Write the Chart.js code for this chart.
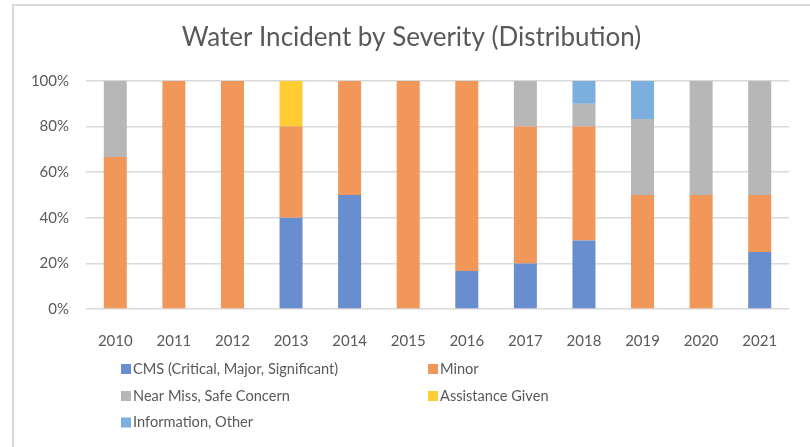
<!DOCTYPE html>
<html><head><meta charset="utf-8">
<script src="https://cdn.jsdelivr.net/npm/chart.js@4"></script>
<style>html,body{margin:0;padding:0;background:#fff}#wrap{width:810px;height:447px;position:relative}</style>
</head><body><div id="wrap"><canvas id="c" width="810" height="447"></canvas></div>
<script>
const years = ['2010','2011','2012','2013','2014','2015','2016','2017','2018','2019','2020','2021'];
const cms        = [0, 0, 0, 40, 50, 0, 16.7, 20, 30, 0, 0, 25];
const minor      = [66.7, 100, 100, 40, 50, 100, 83.3, 60, 50, 50, 50, 25];
const nearMiss   = [33.3, 0, 0, 0, 0, 0, 0, 20, 10, 33.3, 50, 50];
const assistance = [0, 0, 0, 20, 0, 0, 0, 0, 0, 0, 0, 0];
const infoOther  = [0, 0, 0, 0, 0, 0, 0, 0, 10, 16.7, 0, 0];
const seriesNames = ['CMS (Critical, Major, Significant)', 'Minor', 'Near Miss, Safe Concern', 'Assistance Given', 'Information, Other'];
const seriesColors = ['#698ED0', '#F1975A', '#B7B7B7', '#FFCD33', '#7CAFDD'];
const yTickValues = [0, 20, 40, 60, 80, 100];
const titleText = 'Water Incident by Severity (Distribution)';

const FONT = 'Lato';
const TXT = '#595959';

const seriesData = [cms, minor, nearMiss, assistance, infoOther];

const frame = {
  id: 'frame',
  afterLayout(chart) {
    if (chart.titleBlock) { chart.titleBlock.left = 13; chart.titleBlock.right = 810; }
  },
  beforeDraw(chart) {
    const ctx = chart.ctx;
    ctx.save();
    ctx.fillStyle = '#D9D9D9';
    ctx.fillRect(12, 4, 810 - 12, 2);
    ctx.fillRect(12, 4, 2, 447 - 4);
    ctx.restore();
  }
};

const gridLegend = {
  id: 'gridLegend',
  afterDraw(chart) {
    const ctx = chart.ctx;
    const cols = [121, 428];
    const rows = [369, 396, 422.5];
    ctx.save();
    ctx.font = '14.6px ' + FONT;
    ctx.textBaseline = 'middle';
    ctx.textAlign = 'left';
    chart.data.datasets.forEach((ds, i) => {
      const x = cols[i % 2];
      const y = rows[Math.floor(i / 2)];
      ctx.fillStyle = ds.backgroundColor;
      ctx.fillRect(x, y - 5, 10, 10);
      ctx.fillStyle = TXT;
      ctx.fillText(ds.label, x + 12, y);
    });
    ctx.restore();
  }
};

new Chart(document.getElementById('c'), {
  type: 'bar',
  data: {
    labels: years,
    datasets: seriesNames.map((n, i) => ({
      label: n,
      data: seriesData[i],
      backgroundColor: seriesColors[i],
      borderWidth: 0,
      categoryPercentage: 1,
      barPercentage: 0.393
    }))
  },
  options: {
    responsive: false,
    animation: false,
    devicePixelRatio: 1,
    layout: { padding: { left: 0, right: 21, top: 0, bottom: 0 } },
    plugins: {
      legend: { display: false },
      tooltip: { enabled: false },
      title: {
        display: true,
        text: titleText,
        color: TXT,
        font: { family: FONT, size: 26, weight: 'normal' },
        padding: { top: 22, bottom: 27.8 }
      }
    },
    scales: {
      x: {
        stacked: true,
        grid: { display: false },
        border: { display: false },
        ticks: { color: TXT, font: { family: FONT, size: 15 }, padding: 15, maxRotation: 0 },
        afterFit(s) { s.height = 138; }
      },
      y: {
        stacked: true,
        min: 0, max: 100,
        afterBuildTicks(s) { s.ticks = yTickValues.map(v => ({ value: v })); },
        grid: { color: '#D9D9D9', lineWidth: 1.5, drawTicks: false },
        border: { display: false },
        ticks: { color: TXT, font: { family: FONT, size: 15 }, padding: 17, callback: v => v + '%' },
        afterFit(s) { s.width = 86; }
      }
    }
  },
  plugins: [frame, gridLegend]
});
</script>
</body></html>
